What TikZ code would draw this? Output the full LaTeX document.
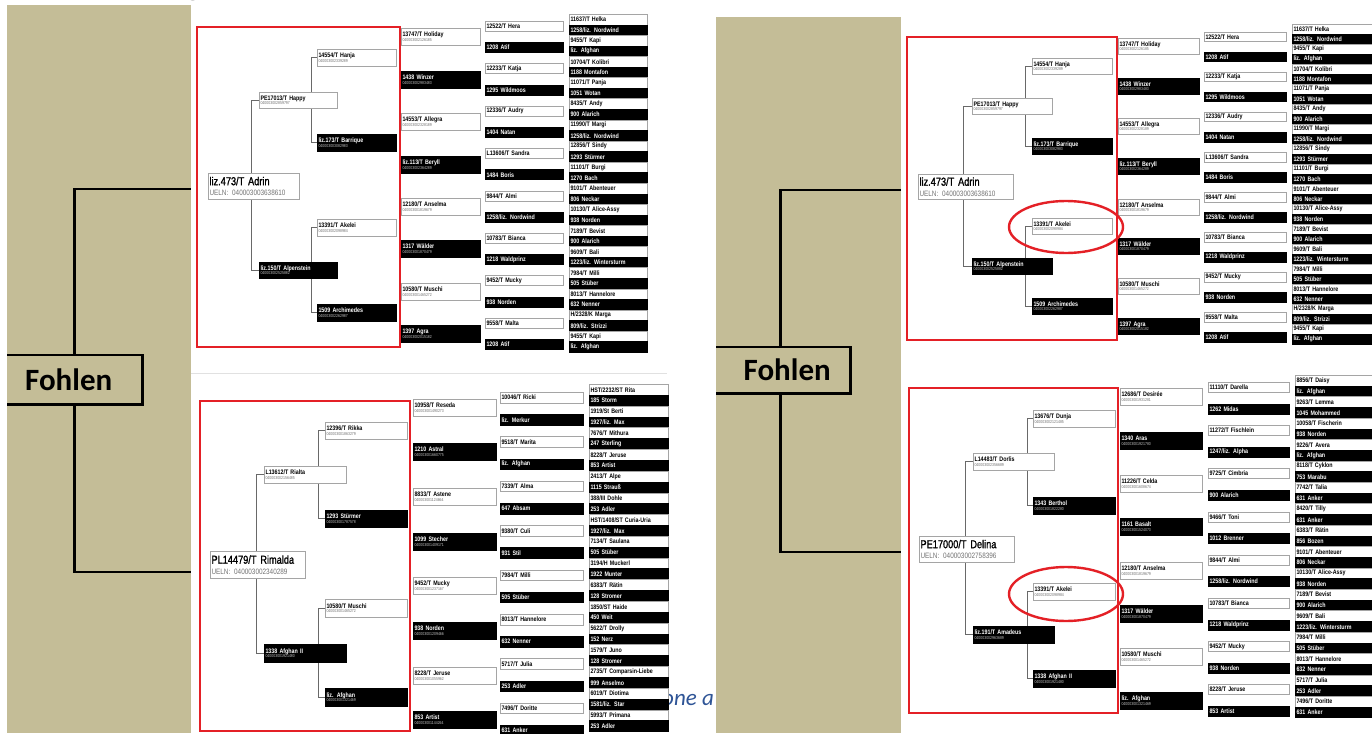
\documentclass[tikz,border=0pt]{standalone}
\usepackage{fontspec}
\setmainfont{Liberation Sans}
\newfontfamily\nar[FakeStretch=0.82]{Liberation Sans}
\newfontfamily\narsb[FakeStretch=0.8,FakeBold=1.3]{Liberation Sans}
\newfontfamily\calfont{Carlito}
\definecolor{beige}{RGB}{196,189,151}
\definecolor{redl}{RGB}{228,32,38}
\definecolor{bluet}{RGB}{46,84,150}
\definecolor{treec}{RGB}{105,105,105}
\definecolor{boxb}{RGB}{165,165,165}
\definecolor{sepc}{RGB}{225,225,225}
\pgfdeclarelayer{back}\pgfdeclarelayer{lines}\pgfsetlayers{back,lines,main}
\tikzset{
 wbox/.style={draw=boxb, fill=white, text=black, execute at begin node={\colorlet{idcol}{black!55}}},
 bbox/.style={draw=black, fill=black, text=white, execute at begin node={\colorlet{idcol}{white!75!black}}},
 alt/.code={\ifodd#1\relax\pgfkeysalso{wbox}\else\pgfkeysalso{bbox}\fi},
 cell/.style={anchor=north west, inner xsep=1.2pt, inner ysep=0pt, line width=0.6pt, align=left, font=\nar\bfseries\fontsize{6.5}{7}\selectfont},
 tree/.style={draw=treec, line width=1pt},
 redbox/.style={draw=redl, line width=2pt},
 fohlen/.style={fill=beige, font=\calfont\bfseries\fontsize{31}{34}\selectfont, inner sep=0pt, anchor=north west},
 fline/.style={draw=black, line width=2.6pt},
 redring/.style={draw=redl, line width=2.4pt},
}
\newcommand\tbox[8]{%
 \pgfmathsetmacro\tbw{#5-2.4}%
 \node[cell,#1,minimum width=#5pt,minimum height=#6pt,text width=\tbw pt] (#2) at (#3,#4) {#7\\[-2.6pt]{\mdseries\fontsize{4.3}{4.5}\selectfont\color{idcol}#8}};}
\newcommand\mainbox[7]{%
 \pgfmathsetmacro\tbw{#4-2.4}%
 \node[cell,wbox,font=\narsb\fontsize{11.5}{12}\selectfont,minimum width=#4pt,minimum height=#5pt,text width=\tbw pt] (#1) at (#2,#3) {#6\\[-1.5pt]{\nar\fontsize{7.8}{8}\selectfont\color{black!55}UELN: #7}};}
\newcommand\pcol[7]{%
 \pgfmathsetmacro\cw{#5-2.4}%
 \foreach \n [count=\i] in {#7}{%
  \pgfmathsetmacro\yy{#3+(\i-1)*#4}%
  \node[cell,alt=\i,minimum width=#5pt,minimum height=#6pt,text width=\cw pt] (#1-\i) at (#2,\yy) {\n};}}
\begin{document}
\begin{tikzpicture}[x=1pt,y=-1pt]
\useasboundingbox (0,0) rectangle (1372,733);
\begin{pgfonlayer}{back}
\fill[white] (0,0) rectangle (1372,733);
\node[anchor=base west, font=\calfont\itshape\fontsize{23}{25}\selectfont, text=bluet, inner sep=0pt] (cap) at (662,705) {one a};
\fill[beige] (7,5) rectangle (191,733);
\fill[beige] (716,17) rectangle (901,733);
\draw[sepc, line width=0.8pt] (191,373) -- (667,373);
\end{pgfonlayer}
% title fragment
\begin{scope}
\clip (170,0) rectangle (215,4);
\node[anchor=base, font=\calfont\fontsize{36}{40}\selectfont, inner sep=0pt] (ttl) at (193,-5) {g};
\end{scope}
% Fohlen boxes and connectors
\node[fohlen, minimum width=135pt, minimum height=49pt] (F1) at (7,355) {Fohlen\hspace*{12pt}};
\draw[fline] (F1.north west) -- (F1.north east) -- (F1.south east) -- (F1.south west);
\coordinate (LT) at (191,189);
\coordinate (LB) at (191,572);
\draw[fline] ([xshift=-0.5pt]F1.north) |- (LT);
\draw[fline] ([xshift=-0.5pt]F1.south) |- (LB);
\node[fohlen, minimum width=134pt, minimum height=46pt] (F2) at (716,347) {\hspace*{8pt}Fohlen};
\draw[fline] (F2.north west) -- (F2.north east) -- (F2.south east) -- (F2.south west);
\coordinate (RT) at (901,190);
\coordinate (RB) at (901,552);
\draw[fline] ([xshift=-3pt]F2.north) |- (RT);
\draw[fline] ([xshift=-3pt]F2.south) |- (RB);
% ================= Panel A (top left)
\draw[redbox] (197,27) rectangle (400,347);
\mainbox{A0}{208}{173}{91}{26}{liz.473/T Adrin}{040003003638610}
\tbox{wbox}{A1}{259}{92}{78}{16}{PE17013/T Happy}{040003002859797}
\tbox{bbox}{A2}{259}{262}{78}{16}{liz.150/T Alpenstein}{040003002525882}
\tbox{wbox}{A11}{317}{49}{79}{17}{14554/T Hanja}{040003002339289}
\tbox{bbox}{A12}{317}{134}{79}{17}{liz.173/T Barrique}{040003003082983}
\tbox{wbox}{A21}{317}{219}{79}{17}{13391/T Akelei}{040003002098984}
\tbox{bbox}{A22}{317}{304}{79}{17}{1509 Archimedes}{040003002262987}
\begin{pgfonlayer}{lines}
\draw[tree] (A1.west) -- ++(-8,0) |- (A2.west);
\draw[tree] (A11.west) -- ++(-6,0) |- (A12.west);
\draw[tree] (A21.west) -- ++(-6,0) |- (A22.west);
\end{pgfonlayer}
\tbox{wbox}{A3-1}{401}{28}{79}{17}{13747/T Holiday}{040003002126185}
\tbox{bbox}{A3-2}{401}{71}{79}{17}{1438 Winzer}{040003002983483}
\tbox{wbox}{A3-3}{401}{113}{79}{17}{14553/T Allegra}{040003002328189}
\tbox{bbox}{A3-4}{401}{156}{79}{17}{liz.113/T Beryll}{040003002364289}
\tbox{wbox}{A3-5}{401}{198}{79}{17}{12180/T Anselma}{040003001819679}
\tbox{bbox}{A3-6}{401}{240}{79}{17}{1317 Wälder}{040003001870479}
\tbox{wbox}{A3-7}{401}{283}{79}{17}{10580/T Muschi}{040003001465272}
\tbox{bbox}{A3-8}{401}{325}{79}{17}{1397 Agra}{040003002015182}
\pcol{A4}{485}{21}{21.2}{78}{10}{12522/T Hera,1208 Atif,12233/T Katja,1295 Wildmoos,12336/T Audry,1404 Natan,L13606/T Sandra,1484 Boris,9844/T Almi,1258/liz. Nordwind,10783/T Bianca,1218 Waldprinz,9452/T Mucky,938 Norden,9558/T Malta,1208 Atif}
\pcol{A5}{569}{14}{10.56}{78}{10.56}{11637/T Helka,1258/liz. Nordwind,9455/T Kapi,liz. Afghan,10704/T Kolibri,1188 Montafon,11071/T Panja,1051 Wotan,8435/T Andy,900 Alarich,11990/T Margi,1258/liz. Nordwind,12856/T Sindy,1293 Stürmer,11101/T Burgi,1270 Bach,9101/T Abenteuer,806 Neckar,10130/T Alice-Assy,938 Norden,7189/T Bevist,900 Alarich,9609/T Bali,1223/liz. Wintersturm,7984/T Milli,505 Stüber,8013/T Hannelore,632 Nenner,H/2328/K Marga,809/liz. Strizzi,9455/T Kapi,liz. Afghan}
% ================= Panel B (bottom left)
\draw[redbox] (200,401) rectangle (410,731);
\mainbox{B0}{210}{551}{95}{27}{PL14479/T Rimalda}{040003002340289}
\tbox{wbox}{B1}{264}{466}{82}{17}{L13612/T Rialta}{040003002156485}
\tbox{bbox}{B2}{264}{644}{82}{18}{1338 Afghan II}{040003001921480}
\tbox{wbox}{B11}{325}{422}{82}{17}{12396/T Rikka}{040003001863279}
\tbox{bbox}{B12}{325}{510}{82}{17}{1293 Stürmer}{040003001787578}
\tbox{wbox}{B21}{325}{599}{82}{18}{10580/T Muschi}{040003001465272}
\tbox{bbox}{B22}{325}{688}{82}{18}{liz. Afghan}{040003001321469}
\begin{pgfonlayer}{lines}
\draw[tree] (B1.west) -- ++(-8,0) |- (B2.west);
\draw[tree] (B11.west) -- ++(-7,0) |- (B12.west);
\draw[tree] (B21.west) -- ++(-7,0) |- (B22.west);
\end{pgfonlayer}
\tbox{wbox}{B3-1}{413}{399}{83}{17}{10958/T Reseda}{040003001490273}
\tbox{bbox}{B3-2}{413}{443}{83}{17}{1210 Astral}{040003001660775}
\tbox{wbox}{B3-3}{413}{488}{83}{17}{8833/T Astene}{040003001124664}
\tbox{bbox}{B3-4}{413}{533}{83}{17}{1099 Stecher}{040003001409171}
\tbox{wbox}{B3-5}{413}{577}{83}{17}{9452/T Mucky}{040003001237167}
\tbox{bbox}{B3-6}{413}{622}{83}{17}{938 Norden}{040003001209466}
\tbox{wbox}{B3-7}{413}{667}{83}{17}{8228/T Jeruse}{040003001055962}
\tbox{bbox}{B3-8}{413}{711}{83}{17}{853 Artist}{040003001144264}
\pcol{B4}{500}{392}{22.2}{83}{10.5}{10046/T Ricki,liz. Merkur,9518/T Marita,liz. Afghan,7339/T Alma,647 Absam,9380/T Culi,931 Stil,7984/T Milli,505 Stüber,8013/T Hannelore,632 Nenner,5717/T Julia,253 Adler,7496/T Doritte,631 Anker}
\pcol{B5}{589}{384}{10.85}{79}{10.85}{HST/2232/ST Rita,185 Storm,1919/St Berti,1927/liz. Max,7676/T Mithura,247 Sterling,8228/T Jeruse,853 Artist,2413/T Alpe,1115 Strauß,388/III Dohle,253 Adler,HST/1408/ST Curia-Uria,1927/liz. Max,7134/T Saulana,505 Stüber,3194/H Muckerl,1922 Munter,6383/T Rätin,128 Stromer,1850/ST Haide,450 Weit,5622/T Drolly,152 Nerz,1579/T Juno,128 Stromer,2735/T Comparsin-Liebe,999 Anselmo,6019/T Diotima,1581/liz. Star,5993/T Primana,253 Adler}
% ================= Panel C (top right)
\draw[redbox] (907,37) rectangle (1117,340);
\mainbox{C0}{918}{174}{95}{25}{liz.473/T Adrin}{040003003638610}
\tbox{wbox}{C1}{972}{98}{80}{16}{PE17013/T Happy}{040003002859797}
\tbox{bbox}{C2}{972}{258}{80}{16}{liz.150/T Alpenstein}{040003002525882}
\tbox{wbox}{C11}{1032}{58}{80}{16}{14554/T Hanja}{040003002339289}
\tbox{bbox}{C12}{1032}{138}{80}{16}{liz.173/T Barrique}{040003003082983}
\tbox{wbox}{C21}{1032}{218}{80}{16}{13391/T Akelei}{040003002098984}
\tbox{bbox}{C22}{1032}{298}{80}{16}{1509 Archimedes}{040003002262987}
\begin{pgfonlayer}{lines}
\draw[tree] (C1.west) -- ++(-9,0) |- (C2.west);
\draw[tree] (C11.west) -- ++(-7,0) |- (C12.west);
\draw[tree] (C21.west) -- ++(-7,0) |- (C22.west);
\end{pgfonlayer}
\tbox{wbox}{C3-1}{1118}{38}{81}{16}{13747/T Holiday}{040003002126185}
\tbox{bbox}{C3-2}{1118}{78}{81}{16}{1438 Winzer}{040003002983483}
\tbox{wbox}{C3-3}{1118}{118}{81}{16}{14553/T Allegra}{040003002328189}
\tbox{bbox}{C3-4}{1118}{158}{81}{16}{liz.113/T Beryll}{040003002364289}
\tbox{wbox}{C3-5}{1118}{199}{81}{16}{12180/T Anselma}{040003001819679}
\tbox{bbox}{C3-6}{1118}{238}{81}{16}{1317 Wälder}{040003001870479}
\tbox{wbox}{C3-7}{1118}{278}{81}{16}{10580/T Muschi}{040003001465272}
\tbox{bbox}{C3-8}{1118}{318}{81}{16}{1397 Agra}{040003002015182}
\pcol{C4}{1204}{32}{20}{82}{9.5}{12522/T Hera,1208 Atif,12233/T Katja,1295 Wildmoos,12336/T Audry,1404 Natan,L13606/T Sandra,1484 Boris,9844/T Almi,1258/liz. Nordwind,10783/T Bianca,1218 Waldprinz,9452/T Mucky,938 Norden,9558/T Malta,1208 Atif}
\pcol{C5}{1292}{24}{10}{84}{10}{11637/T Helka,1258/liz. Nordwind,9455/T Kapi,liz. Afghan,10704/T Kolibri,1188 Montafon,11071/T Panja,1051 Wotan,8435/T Andy,900 Alarich,11990/T Margi,1258/liz. Nordwind,12856/T Sindy,1293 Stürmer,11101/T Burgi,1270 Bach,9101/T Abenteuer,806 Neckar,10130/T Alice-Assy,938 Norden,7189/T Bevist,900 Alarich,9609/T Bali,1223/liz. Wintersturm,7984/T Milli,505 Stüber,8013/T Hannelore,632 Nenner,H/2328/K Marga,809/liz. Strizzi,9455/T Kapi,liz. Afghan}
\draw[redring] (1066,227) ellipse [x radius=57, y radius=26];
% ================= Panel D (bottom right)
\draw[redbox] (909,388) rectangle (1118,713);
\mainbox{D0}{919}{536}{95}{26}{PE17000/T Delina}{040003002758396}
\tbox{wbox}{D1}{973}{453}{81}{17}{L14483/T Dorlis}{040003002356689}
\tbox{bbox}{D2}{973}{626}{81}{17}{liz.191/T Amadeus}{040003002963689}
\tbox{wbox}{D11}{1033}{410}{82}{17}{13676/T Dunja}{040003002121485}
\tbox{bbox}{D12}{1033}{497}{82}{17}{1343 Berthol}{040003001822280}
\tbox{wbox}{D21}{1033}{583}{82}{17}{13391/T Akelei}{040003002098984}
\tbox{bbox}{D22}{1033}{670}{82}{17}{1338 Afghan II}{040003001921480}
\begin{pgfonlayer}{lines}
\draw[tree] (D1.west) -- ++(-8,0) |- (D2.west);
\draw[tree] (D11.west) -- ++(-6,0) |- (D12.west);
\draw[tree] (D21.west) -- ++(-6,0) |- (D22.west);
\end{pgfonlayer}
\tbox{wbox}{D3-1}{1120}{388}{82}{17}{12686/T Desirée}{040003001931281}
\tbox{bbox}{D3-2}{1120}{432}{82}{17}{1340 Aras}{040003001921780}
\tbox{wbox}{D3-3}{1120}{475}{82}{17}{11226/T Celda}{040003001608674}
\tbox{bbox}{D3-4}{1120}{518}{82}{17}{1161 Basalt}{040003001524073}
\tbox{wbox}{D3-5}{1120}{562}{82}{17}{12180/T Anselma}{040003001819679}
\tbox{bbox}{D3-6}{1120}{605}{82}{17}{1317 Wälder}{040003001870479}
\tbox{wbox}{D3-7}{1120}{648}{82}{17}{10580/T Muschi}{040003001465272}
\tbox{bbox}{D3-8}{1120}{692}{82}{17}{liz. Afghan}{040003001321469}
\pcol{D4}{1208}{382}{21.6}{81}{10}{11110/T Darella,1262 Midas,11272/T Fischlein,1247/liz. Alpha,9725/T Cimbria,900 Alarich,9466/T Toni,1012 Brenner,9844/T Almi,1258/liz. Nordwind,10783/T Bianca,1218 Waldprinz,9452/T Mucky,938 Norden,8228/T Jeruse,853 Artist}
\pcol{D5}{1295}{375}{10.7}{81}{10.7}{8856/T Daisy,liz. Afghan,9263/T Lemma,1045 Mohammed,10058/T Fischerin,938 Norden,9226/T Avera,liz. Afghan,8118/T Cyklon,753 Marabu,7742/T Talia,631 Anker,8420/T Tilly,631 Anker,6383/T Rätin,856 Bozen,9101/T Abenteuer,806 Neckar,10130/T Alice-Assy,938 Norden,7189/T Bevist,900 Alarich,9609/T Bali,1223/liz. Wintersturm,7984/T Milli,505 Stüber,8013/T Hannelore,632 Nenner,5717/T Julia,253 Adler,7496/T Doritte,631 Anker}
\draw[redring] (1066,594) ellipse [x radius=57, y radius=27];
\end{tikzpicture}
\end{document}
